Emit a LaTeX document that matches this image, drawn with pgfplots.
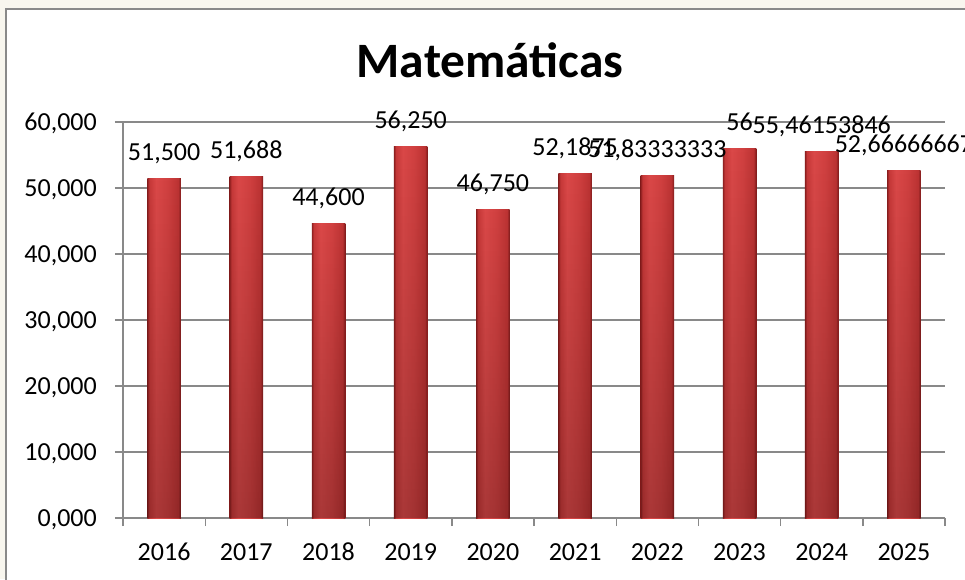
\documentclass[border=0pt]{standalone}
\usepackage{pgfplots}
\usepackage{pgfplotstable}
\pgfplotsset{compat=1.18}
\usetikzlibrary{fadings}
\usepackage{fontspec}
\setmainfont{Carlito}
\definecolor{gridgray}{HTML}{898989}
\definecolor{cream}{HTML}{F8F6EE}
\definecolor{bedge}{HTML}{8E2020}
\definecolor{bmidA}{HTML}{C63838}
\definecolor{blight}{HTML}{DA4848}
\definecolor{bmidB}{HTML}{D04040}
\definecolor{bmidC}{HTML}{BC3333}
\definecolor{bedgeB}{HTML}{7E1B1B}
\pgfdeclarehorizontalshading{barshade}{100bp}{color(0bp)=(bedge); color(25bp)=(bedge); color(28bp)=(bmidA); color(38bp)=(blight); color(55bp)=(bmidB); color(71bp)=(bmidC); color(75bp)=(bedgeB); color(100bp)=(bedgeB)}

\pgfplotstableread{
x y label
0 51.5 51,500
1 51.6875 51,688
2 44.6 44,600
3 56.25 56,250
4 46.75 46,750
5 52.1875 52,1875
6 51.8333333 51,83333333
7 56 56
8 55.46153846 55,46153846
9 52.66666667 52,66666667
}\mydata

\begin{document}
\begin{tikzpicture}[x=1pt,y=1pt]
\path[use as bounding box, fill=cream] (-123,-61) rectangle (842,518);
\draw[gridgray, line width=2pt, fill=white] (-116.5,-90) rectangle (880,508.5);
\node[anchor=base, inner sep=0pt, font=\fontsize{49.5}{58}\selectfont\bfseries] at (367,440) {Matemáticas};
\begin{axis}[
  at={(0,0)}, anchor=south west,
  scale only axis, width=822pt, height=396pt,
  xmin=-0.5, xmax=9.5, ymin=0, ymax=60,
  clip=false,
  axis lines*=left,
  axis line style={gridgray, line width=1.4pt},
  ybar, bar width=33.5pt,
  ytick={0,10,...,60},
  xtick={-0.5,0.5,...,9.5},
  x tick label as interval,
  xticklabels={2016,2017,2018,2019,2020,2021,2022,2023,2024,2025},
  tick align=outside,
  major tick length=8pt,
  tick style={gridgray, line width=1.4pt},
  ymajorgrids,
  grid style={gridgray, line width=1.4pt},
  /pgf/number format/assume math mode=true,
  y tick label style={/pgf/number format/fixed, /pgf/number format/fixed zerofill, /pgf/number format/precision=3, /pgf/number format/use comma, /pgf/number format/1000 sep={}},
  ticklabel style={font=\fontsize{26}{30}\selectfont, text=black},
  yticklabel style={anchor=base east, inner sep=0pt, xshift=-18pt, yshift=-8.2pt},
  xticklabel style={anchor=north, inner sep=0pt, yshift=-17pt},
  every node near coord/.append style={anchor=base, inner sep=0pt, yshift=18pt, font=\fontsize{26}{30}\selectfont, text=black},
]
\pgfplotsinvokeforeach{0,...,9}{
  \addplot[draw=none, shading=barshade, bar shift=0pt, forget plot,
    point meta=explicit symbolic, nodes near coords,
    restrict x to domain=#1:#1] table[x=x, y=y, meta=label] {\mydata};
  \addplot[draw=none, fill=black, fill opacity=0.22, path fading=north, bar shift=0pt, forget plot,
    restrict x to domain=#1:#1] table[x=x, y=y] {\mydata};
}
\end{axis}
\end{tikzpicture}
\end{document}
